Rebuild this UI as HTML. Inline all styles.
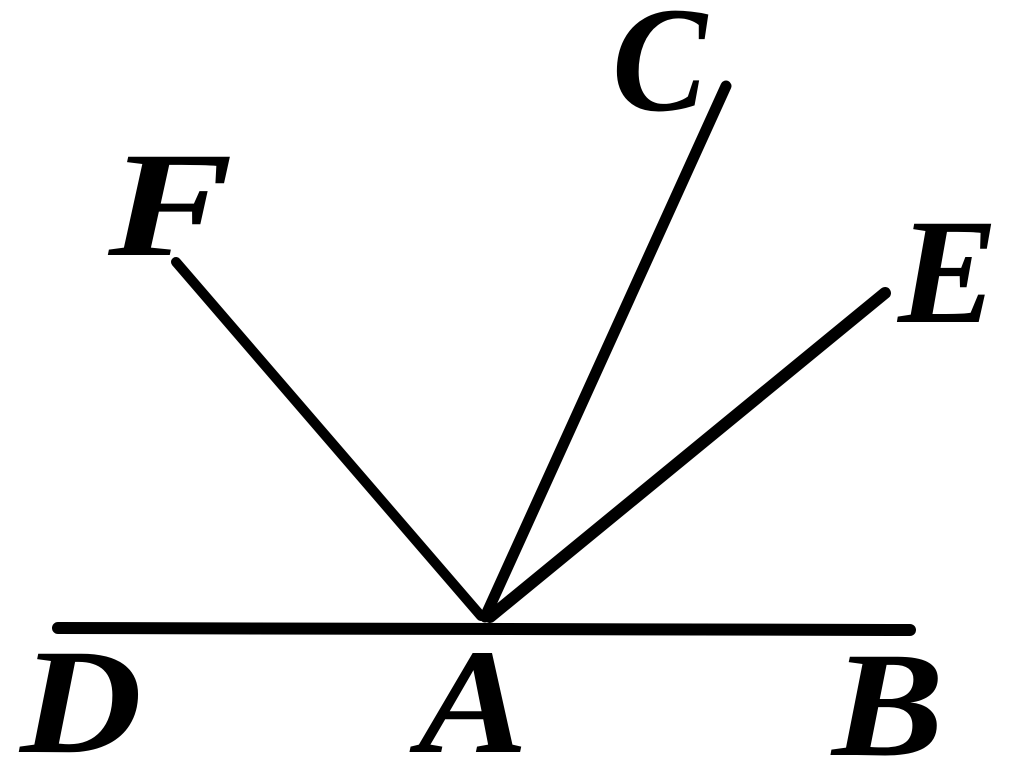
<!DOCTYPE html>
<html><head><meta charset="utf-8"><style>
html,body{margin:0;padding:0;background:#fff;}
svg{display:block}
text{font-family:"Liberation Serif",serif;font-weight:bold;font-style:italic;font-size:150px;fill:#000}
</style></head><body>
<svg width="1024" height="765" viewBox="0 0 1024 765">
<g stroke="#000" stroke-linecap="round" fill="none">
<line x1="58" y1="628" x2="910" y2="630" stroke-width="12"/>
<line x1="176" y1="262" x2="481" y2="616" stroke-width="10"/>
<line x1="726" y1="86" x2="485" y2="617" stroke-width="11"/>
<line x1="885" y1="293" x2="490" y2="617" stroke-width="12"/>
</g>
<text x="108" y="255" textLength="125" lengthAdjust="spacingAndGlyphs">F</text>
<text x="612" y="110" textLength="95" lengthAdjust="spacingAndGlyphs">C</text>
<text x="898" y="322" textLength="100" lengthAdjust="spacingAndGlyphs">E</text>
<text x="20" y="752" textLength="122" lengthAdjust="spacingAndGlyphs">D</text>
<text x="418" y="752" textLength="110" lengthAdjust="spacingAndGlyphs">A</text>
<text x="832" y="755" textLength="112" lengthAdjust="spacingAndGlyphs">B</text>
</svg>
</body></html>
